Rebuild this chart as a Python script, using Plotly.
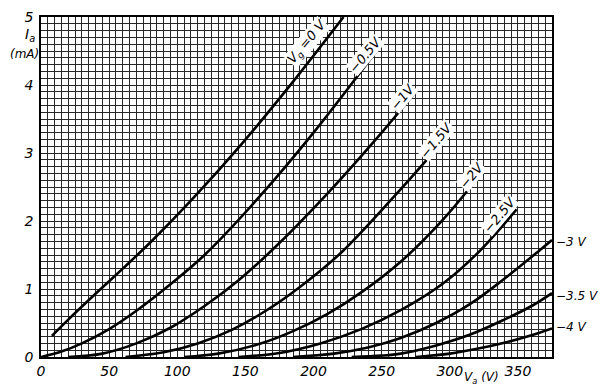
import plotly.graph_objects as go

# Anode voltage (V) / anode current (mA), one list pair per grid voltage
va_0 = [8, 20, 40, 60, 80, 110, 148, 185, 222]
ia_0 = [0.31, 0.55, 0.93, 1.3, 1.68, 2.3, 3.15, 4.05, 5.0]

va_05 = [0, 15, 30, 50, 70, 95, 120, 160, 200, 250]
ia_05 = [0, 0.08, 0.2, 0.41, 0.68, 1.07, 1.5, 2.35, 3.3, 4.6]

va_1 = [20, 45, 70, 95, 120, 145, 170, 210, 250, 275]
ia_1 = [0, 0.05, 0.2, 0.43, 0.75, 1.13, 1.58, 2.4, 3.3, 3.9]

va_15 = [62, 90, 115, 140, 165, 190, 220, 260, 300]
ia_15 = [0, 0.07, 0.2, 0.4, 0.68, 1.03, 1.53, 2.38, 3.29]

va_2 = [105, 130, 160, 185, 210, 235, 265, 295, 324]
ia_2 = [0, 0.05, 0.19, 0.38, 0.63, 0.95, 1.42, 2.02, 2.72]

va_25 = [145, 175, 205, 235, 265, 295, 320, 349]
ia_25 = [0, 0.06, 0.2, 0.41, 0.7, 1.08, 1.52, 2.17]

va_3 = [185, 215, 240, 264, 290, 315, 340, 366, 375]
ia_3 = [0, 0.05, 0.14, 0.28, 0.5, 0.78, 1.15, 1.57, 1.72]

va_35 = [228, 250, 264, 290, 315, 340, 360, 375]
ia_35 = [0, 0.02, 0.05, 0.17, 0.33, 0.55, 0.75, 0.94]

va_4 = [275, 300, 320, 340, 360, 375]
ia_4 = [0, 0.05, 0.12, 0.21, 0.32, 0.42]

curves = [(va_0, ia_0), (va_05, ia_05), (va_1, ia_1), (va_15, ia_15), (va_2, ia_2),
          (va_25, ia_25), (va_3, ia_3), (va_35, ia_35), (va_4, ia_4)]

# Curve labels along the curves: text, V, I
slant_text = ["V<sub>g</sub> =0 V", "−0.5V", "−1V", "−1.5V", "−2V", "−2.5V"]
slant_v = [195, 238, 265, 290, 316, 337]
slant_i = [4.63, 4.45, 3.82, 3.19, 2.67, 2.09]

# Labels at the right edge
edge_text = ["−3 V", "−3.5 V", "−4 V"]
edge_i = [1.69, 0.9, 0.44]

x_ticks = [0, 50, 100, 150, 200, 250, 300, 350]
y_ticks = [0, 1, 2, 3, 4, 5]

fig = go.Figure()
for va, ia in curves:
    fig.add_trace(go.Scatter(x=va, y=ia, mode="lines",
                             line=dict(color="black", width=2.6, shape="spline", smoothing=1.0),
                             hoverinfo="skip", showlegend=False))

font_main = dict(family="DejaVu Sans", color="black")

for t, v, i in zip(slant_text, slant_v, slant_i):
    fig.add_annotation(x=v, y=i, text="<i>" + t + "</i>", showarrow=False, textangle=-50,
                       font=dict(size=13, **font_main), bgcolor="white", borderpad=0)

for t, i in zip(edge_text, edge_i):
    fig.add_annotation(x=375, y=i, text="<i>" + t + "</i>", showarrow=False, xanchor="left",
                       xshift=2, font=dict(size=12, **font_main))

fig.add_annotation(x=0, y=4.74, text="<i>I<sub>a</sub></i>", showarrow=False, xanchor="right", xshift=-4,
                   font=dict(size=14, **font_main))
fig.add_annotation(x=0, y=4.46, text="<i>(mA)</i>", showarrow=False, xanchor="right", xshift=0,
                   font=dict(size=12, **font_main))
fig.add_annotation(x=323, y=0, text="<i>V<sub>a</sub> (V)</i>", showarrow=False, yanchor="top", yshift=-11,
                   font=dict(size=12, **font_main))

grid_color = "#262626"
fig.update_layout(
    width=600, height=392,
    margin=dict(l=41, r=48, t=17, b=35, autoexpand=False),
    paper_bgcolor="white", plot_bgcolor="white",
    xaxis=dict(range=[0, 375], tickvals=x_ticks, ticktext=[str(v) for v in x_ticks],
               automargin=False,
               showgrid=True, gridcolor=grid_color, gridwidth=1,
               minor=dict(dtick=5, tick0=0, showgrid=True, gridcolor=grid_color, gridwidth=1),
               showline=True, linecolor="black", linewidth=1.5, mirror=True, zeroline=False,
               ticks="", tickfont=dict(size=14, style="italic", **font_main)),
    yaxis=dict(range=[0, 5], tickvals=y_ticks, ticktext=[str(v) for v in y_ticks],
               automargin=False,
               showgrid=True, gridcolor=grid_color, gridwidth=1,
               minor=dict(dtick=0.1, tick0=0, showgrid=True, gridcolor=grid_color, gridwidth=1),
               showline=True, linecolor="black", linewidth=1.5, mirror=True, zeroline=False,
               ticks="", ticklabelstandoff=3, tickfont=dict(size=14, style="italic", **font_main)),
)

fig.write_html("out.html", config={"displayModeBar": False},
               post_script="document.body.style.margin='0px';document.body.style.overflow='hidden';")
